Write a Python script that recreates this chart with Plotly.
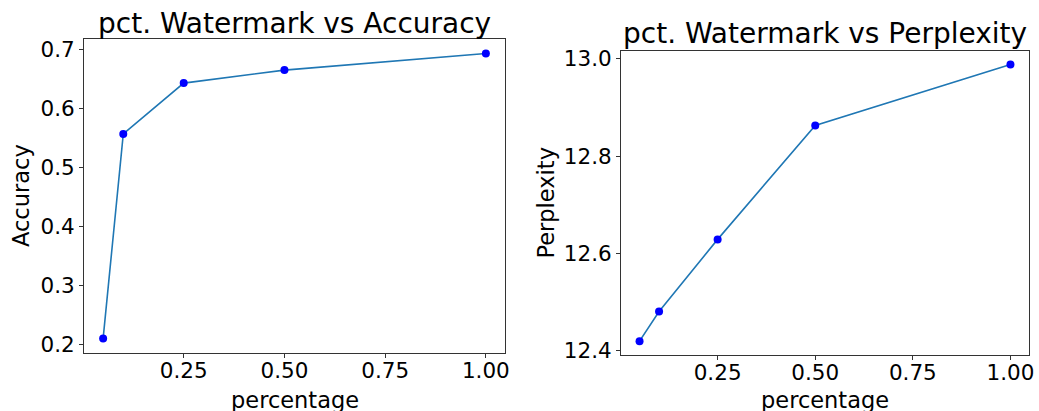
import plotly.graph_objects as go

W, H = 1039, 411

pct = [0.05, 0.1, 0.25, 0.5, 1.0]
accuracy = [0.211, 0.557, 0.643, 0.665, 0.693]
perplexity = [12.420, 12.481, 12.629, 12.863, 12.988]

x_ticks = [0.25, 0.50, 0.75, 1.00]
acc_ticks = [0.2, 0.3, 0.4, 0.5, 0.6, 0.7]
ppl_ticks = [12.4, 12.6, 12.8, 13.0]

titles = ["pct. Watermark vs Accuracy", "pct. Watermark vs Perplexity"]
y_labels = ["Accuracy", "Perplexity"]
x_label = "percentage"

FONT = "DejaVu Sans"
LINE_COLOR = "#1f77b4"
MARK_COLOR = "#0000ff"

def px_x(p):
    return p / W

def px_y(p):
    return 1 - p / H

# panel pixel boxes (left, top, right, bottom)
panels = [(84, 39.3, 505, 352.7), (621, 50.7, 1029, 355)]

fig = go.Figure()
for i, (ys, ax) in enumerate([(accuracy, ""), (perplexity, "2")]):
    fig.add_trace(go.Scatter(x=pct, y=ys, mode="lines",
                             line=dict(color=LINE_COLOR, width=1.6),
                             xaxis="x" + ax, yaxis="y" + ax, showlegend=False,
                             hoverinfo="skip"))
    fig.add_trace(go.Scatter(x=pct, y=ys, mode="markers",
                             marker=dict(color=MARK_COLOR, size=8),
                             xaxis="x" + ax, yaxis="y" + ax, showlegend=False))

def lin_range(vals):
    lo, hi = min(vals), max(vals)
    m = (hi - lo) * 0.05
    return [lo - m, hi + m]

axis_common = dict(showline=True, linecolor="#333", linewidth=1, mirror=True,
                   ticks="outside", ticklen=4, tickcolor="#333", showgrid=False,
                   zeroline=False, automargin=False,
                   tickfont=dict(family=FONT, size=21.5, color="black"))

layout = dict(width=W, height=H, margin=dict(l=0, r=0, t=0, b=0),
              paper_bgcolor="white", plot_bgcolor="white",
              font=dict(family=FONT, color="black"))

ranges_y = [lin_range(accuracy), lin_range(perplexity)]
ticks_y = [acc_ticks, ppl_ticks]
for i, (l, t, r, b) in enumerate(panels):
    s = "" if i == 0 else "2"
    layout["xaxis" + s] = dict(domain=[px_x(l), px_x(r)], range=lin_range(pct),
                               tickvals=x_ticks, tickformat=".2f",
                               ticklabelstandoff=-6,
                               anchor="y" + s, **axis_common)
    layout["yaxis" + s] = dict(domain=[px_y(b), px_y(t)], range=ranges_y[i],
                               tickvals=ticks_y[i], tickformat=".1f",
                               anchor="x" + s, **axis_common)

fig.update_layout(**layout)

title_y = [23.5, 33.5]
ylab_x = [21, 545.7]
for i, (l, t, r, b) in enumerate(panels):
    cx = (l + r) / 2
    fig.add_annotation(text=titles[i], x=px_x(cx), y=px_y(title_y[i]),
                       xref="paper", yref="paper", showarrow=False,
                       xanchor="center", yanchor="middle",
                       font=dict(family=FONT, size=28, color="black"))
    fig.add_annotation(text=x_label, x=px_x(cx), y=px_y(400),
                       xref="paper", yref="paper", showarrow=False,
                       xanchor="center", yanchor="middle",
                       font=dict(family=FONT, size=22.5, color="black"))
    fig.add_annotation(text=y_labels[i], x=px_x(ylab_x[i]), y=px_y((t + b) / 2),
                       xref="paper", yref="paper", showarrow=False, textangle=-90,
                       xanchor="center", yanchor="middle",
                       font=dict(family=FONT, size=22.5, color="black"))

fig.write_html("out.html", config={"displayModeBar": False},
               post_script="document.body.style.margin='0';document.body.style.overflow='hidden';")
